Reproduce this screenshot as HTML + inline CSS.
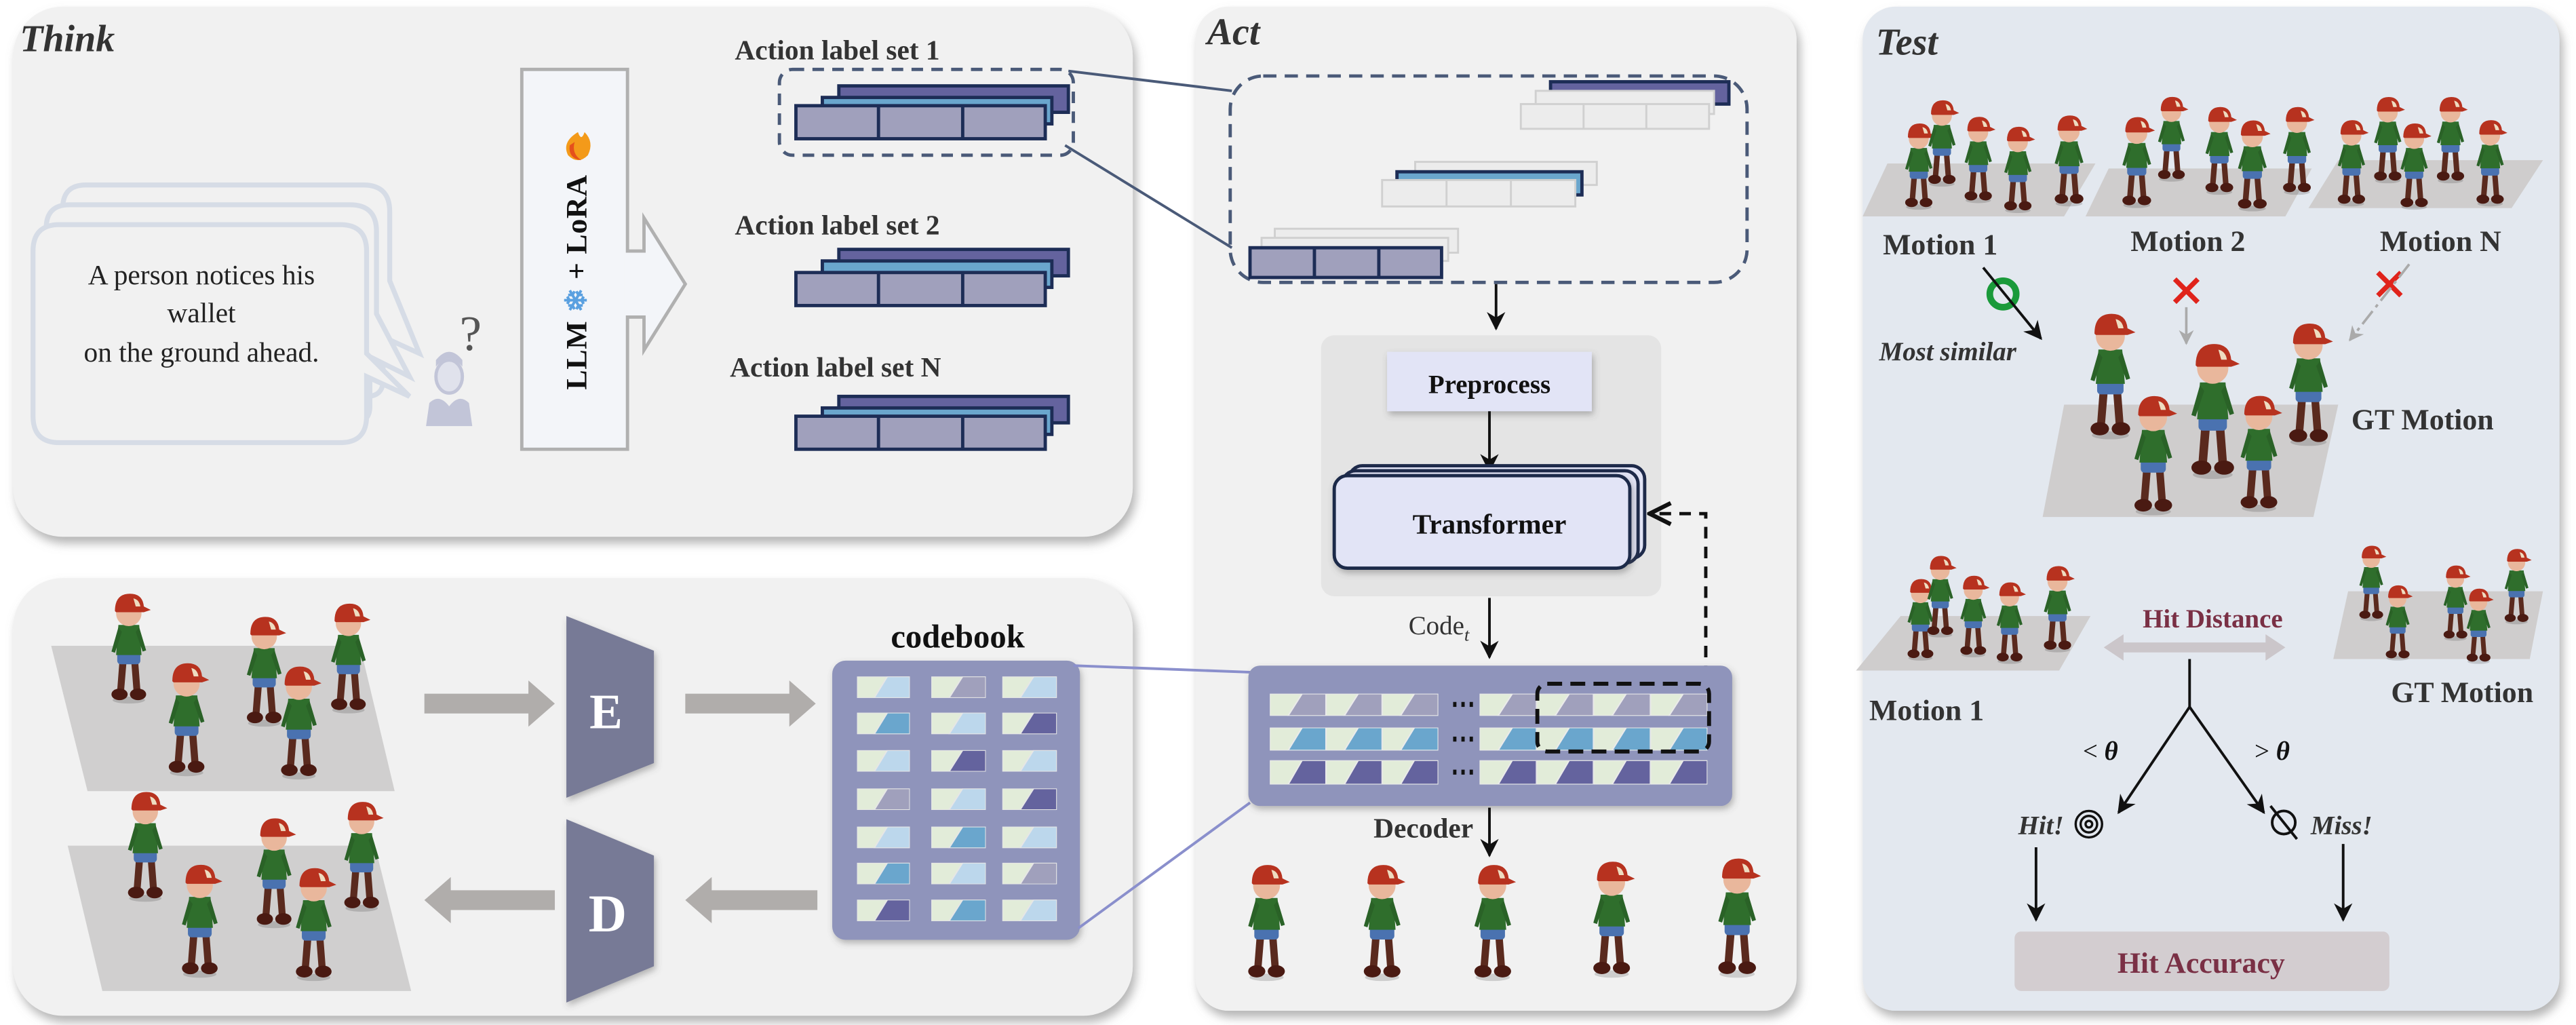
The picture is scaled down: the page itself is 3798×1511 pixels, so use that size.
<!DOCTYPE html>
<html><head><meta charset="utf-8"><style>
html,body{margin:0;padding:0;background:#fff;}
svg{display:block;}
text{font-family:"Liberation Serif",serif;}
</style></head><body>
<svg width="3798" height="1511" viewBox="0 0 1560 620.6" preserveAspectRatio="none" xmlns="http://www.w3.org/2000/svg">
<defs>
<filter id="sh" x="-5%" y="-5%" width="110%" height="112%"><feDropShadow dx="2" dy="4" stdDeviation="3" flood-color="#777" flood-opacity="0.55"/></filter>
<filter id="sh2" x="-10%" y="-10%" width="120%" height="130%"><feDropShadow dx="1" dy="2" stdDeviation="2" flood-color="#555" flood-opacity="0.4"/></filter>
<marker id="ah" viewBox="0 0 10 10" refX="9" refY="5" markerWidth="7" markerHeight="7" orient="auto"><path d="M0,0 L10,5 L0,10 L3,5 z" fill="#111"/></marker>
<marker id="ahg" viewBox="0 0 10 10" refX="9" refY="5" markerWidth="6" markerHeight="6" orient="auto"><path d="M0,0 L10,5 L0,10 L3,5 z" fill="#aaa"/></marker>
<marker id="aho" viewBox="0 0 10 10" refX="9" refY="5" markerWidth="8" markerHeight="8" orient="auto"><path d="M1,1 L9,5 L1,9" fill="none" stroke="#111" stroke-width="1.6"/></marker>
<symbol id="c1" viewBox="0 0 40 16" preserveAspectRatio="none"><rect width="40" height="16" fill="#e2ecd9"/><polygon points="13,16 23,0 40,0 40,16" fill="#a0a0bc"/></symbol>
<symbol id="c2" viewBox="0 0 40 16" preserveAspectRatio="none"><rect width="40" height="16" fill="#e2ecd9"/><polygon points="13,16 23,0 40,0 40,16" fill="#6aa6cd"/></symbol>
<symbol id="c3" viewBox="0 0 40 16" preserveAspectRatio="none"><rect width="40" height="16" fill="#e2ecd9"/><polygon points="13,16 23,0 40,0 40,16" fill="#64639e"/></symbol>
<symbol id="c4" viewBox="0 0 40 16" preserveAspectRatio="none"><rect width="40" height="16" fill="#e2ecd9"/><polygon points="13,16 23,0 40,0 40,16" fill="#bcd7ec"/></symbol>
<symbol id="kid" viewBox="0 0 40 100">
<ellipse cx="20" cy="97" rx="14" ry="3" fill="#000" opacity="0.15"/>
<path d="M12,62 L10,88 L16,88 L18,64 Z" fill="#5a2a1e"/>
<path d="M22,62 L24,88 L30,88 L28,62 Z" fill="#5a2a1e"/>
<ellipse cx="12" cy="92" rx="7" ry="5" fill="#4a1a12"/>
<ellipse cx="28" cy="92" rx="7" ry="5" fill="#4a1a12"/>
<rect x="10" y="54" width="20" height="12" rx="3" fill="#4a72b0"/>
<path d="M11,32 L29,32 L31,58 L9,58 Z" fill="#2f6e2c"/>
<path d="M11,34 L5,55 L8,56 L14,38 Z" fill="#2a6227"/>
<path d="M29,34 L35,54 L32,55 L26,38 Z" fill="#2a6227"/>
<circle cx="20" cy="22" r="11" fill="#e9b79c"/>
<path d="M8,20 Q8,5 21,5 Q32,5 33,16 L39,19 L33,21 L9,21 Z" fill="#b7321f"/>
<path d="M24,9 Q29,10 30,16 L26,16 Z" fill="#eedcc0"/>
</symbol>
</defs>

<!-- ================= THINK PANEL ================= -->
<rect x="8" y="4" width="678" height="321" rx="30" fill="#f1f1f1" filter="url(#sh)"/>
<text x="12" y="31" font-size="23" font-style="italic" font-weight="bold" fill="#333">Think</text>

<g fill="#f1f1f1" stroke="#d6dce6" stroke-width="3">
<path d="M52,112 L220,112 Q236,112 236,128 L236,170 L254,214 L232,204 L232,230 Q232,240 222,240 L52,240 Q38,240 38,226 L38,126 Q38,112 52,112Z"/>
<path d="M42,124 L212,124 Q228,124 228,140 L228,190 L248,228 L224,216 L224,246 Q224,256 214,256 L42,256 Q28,256 28,242 L28,138 Q28,124 42,124Z"/>
<path d="M36,136 L206,136 Q222,136 222,152 L222,214 L248,240 L222,228 L222,252 Q222,268 206,268 L36,268 Q20,268 20,252 L20,152 Q20,136 36,136Z"/>
</g>
<g font-size="17" fill="#222" text-anchor="middle">
<text x="122" y="172">A person notices his</text>
<text x="122" y="195">wallet</text>
<text x="122" y="219">on the ground ahead.</text>
</g>
<text x="285" y="212" font-size="30" fill="#555" text-anchor="middle" font-family="Liberation Sans,sans-serif">?</text>
<g fill="#c2c5d8">
<ellipse cx="272" cy="228" rx="8" ry="10" fill="#e0e2ec" stroke="#c2c5d8" stroke-width="2"/>
<path d="M264,222 Q272,212 280,222 L280,218 Q272,208 264,218Z"/>
<path d="M258,258 L260,244 Q266,238 272,246 Q278,238 284,244 L286,258 Z"/>
</g>

<path d="M316,42 L380,42 L380,152 L390,152 L390,132 L415,172 L390,212 L390,192 L380,192 L380,272 L316,272 Z" fill="#f3f5f9" stroke="#b0b0b0" stroke-width="2"/>
<rect x="318" y="44" width="60" height="226" fill="#f3f5f9"/>
<g transform="translate(355,171) rotate(-90)">
<text x="0" y="0" font-size="18" font-weight="bold" fill="#111" text-anchor="middle" textLength="130">LLM <tspan fill="#5aa0e0">❄</tspan> + LoRA</text>
</g>
<path d="M350,80 Q340,86 344,94 Q350,100 356,94 Q360,86 354,80 Q352,86 350,80Z" fill="#f39a1a"/>
<path d="M345,88 Q344,96 352,97 Q346,93 348,86Z" fill="#e5501c"/>

<g font-size="17" font-weight="bold" fill="#333">
<text x="445" y="36">Action label set 1</text>
<text x="445" y="142">Action label set 2</text>
<text x="442" y="228">Action label set N</text>
</g>
<g stroke="#1d2d56" stroke-width="2">
<g>
<rect x="508" y="52" width="139" height="16" fill="#64639e"/>
<rect x="498" y="59" width="139" height="16" fill="#6aa6cd"/>
<rect x="482" y="64" width="151" height="20" fill="#a0a0bc"/>
<line x1="532" y1="64" x2="532" y2="84"/><line x1="583" y1="64" x2="583" y2="84"/>
</g>
<g transform="translate(0,104)">
<rect x="508" y="47" width="139" height="16" fill="#64639e"/>
<rect x="498" y="54" width="139" height="16" fill="#6aa6cd"/>
<rect x="482" y="61" width="151" height="20" fill="#a0a0bc"/>
<line x1="532" y1="61" x2="532" y2="81"/><line x1="583" y1="61" x2="583" y2="81"/>
</g>
<g transform="translate(0,188)">
<rect x="508" y="52" width="139" height="16" fill="#64639e"/>
<rect x="498" y="59" width="139" height="16" fill="#6aa6cd"/>
<rect x="482" y="64" width="151" height="20" fill="#a0a0bc"/>
<line x1="532" y1="64" x2="532" y2="84"/><line x1="583" y1="64" x2="583" y2="84"/>
</g>
</g>
<rect x="472" y="42" width="178" height="52" rx="8" fill="none" stroke="#4a5a78" stroke-width="2" stroke-dasharray="7,5"/>

<!-- ================= BOTTOM-LEFT PANEL ================= -->
<rect x="8" y="350" width="678" height="265" rx="30" fill="#f1f1f1" filter="url(#sh)"/>
<polygon points="31,391 218,391 239,479 53,479" fill="#d0cfcf"/>
<polygon points="41,512 227,512 249,600 62,600" fill="#d0cfcf"/>
<use href="#kid" x="56" y="356" width="44" height="70"/>
<use href="#kid" x="138" y="370" width="44" height="70"/>
<use href="#kid" x="189" y="362" width="44" height="70"/>
<use href="#kid" x="90" y="398" width="46" height="72"/>
<use href="#kid" x="158" y="400" width="46" height="72"/>
<use href="#kid" x="66" y="476" width="44" height="70"/>
<use href="#kid" x="144" y="492" width="44" height="70"/>
<use href="#kid" x="197" y="482" width="44" height="70"/>
<use href="#kid" x="98" y="520" width="46" height="72"/>
<use href="#kid" x="167" y="522" width="46" height="72"/>
<g fill="#b0adab">
<polygon points="257,420 320,420 320,412 336,426 320,440 320,432 257,432"/>
<polygon points="415,420 478,420 478,412 494,426 478,440 478,432 415,432"/>
<polygon points="336,539 273,539 273,531 257,545 273,559 273,551 336,551"/>
<polygon points="495,539 431,539 431,531 415,545 431,559 431,551 495,551"/>
</g>
<polygon points="343,373 396,394 396,462 343,483" fill="#777a96" filter="url(#sh2)"/>
<polygon points="343,496 396,518 396,585 343,607" fill="#777a96" filter="url(#sh2)"/>
<text x="367" y="441" font-size="30" font-family="Liberation Sans,sans-serif" font-weight="bold" fill="#fff" text-anchor="middle">E</text>
<text x="368" y="564" font-size="32" font-family="Liberation Sans,sans-serif" font-weight="bold" fill="#fff" text-anchor="middle">D</text>
<text x="580" y="392" font-size="20" font-weight="bold" fill="#111" text-anchor="middle">codebook</text>
<rect x="504" y="400" width="150" height="169" rx="8" fill="#8f94bb" filter="url(#sh2)"/>
<g stroke="#e6e6e6" stroke-width="1">
<use href="#c4" x="519" y="409.6" width="32" height="13"/><use href="#c1" x="564" y="409.6" width="33" height="13"/><use href="#c4" x="607" y="409.6" width="33" height="13"/>
<use href="#c2" x="519" y="431.5" width="32" height="13"/><use href="#c4" x="564" y="431.5" width="33" height="13"/><use href="#c3" x="607" y="431.5" width="33" height="13"/>
<use href="#c4" x="519" y="454.2" width="32" height="13"/><use href="#c3" x="564" y="454.2" width="33" height="13"/><use href="#c4" x="607" y="454.2" width="33" height="13"/>
<use href="#c1" x="519" y="477.4" width="32" height="13"/><use href="#c4" x="564" y="477.4" width="33" height="13"/><use href="#c3" x="607" y="477.4" width="33" height="13"/>
<use href="#c4" x="519" y="500.5" width="32" height="13"/><use href="#c2" x="564" y="500.5" width="33" height="13"/><use href="#c4" x="607" y="500.5" width="33" height="13"/>
<use href="#c2" x="519" y="522.4" width="32" height="13"/><use href="#c4" x="564" y="522.4" width="33" height="13"/><use href="#c1" x="607" y="522.4" width="33" height="13"/>
<use href="#c3" x="519" y="544.7" width="32" height="13"/><use href="#c2" x="564" y="544.7" width="33" height="13"/><use href="#c4" x="607" y="544.7" width="33" height="13"/>
</g>

<!-- ================= ACT PANEL ================= -->
<rect x="724" y="4" width="364" height="608" rx="20" fill="#f1f1f1" filter="url(#sh)"/>
<text x="731" y="27" font-size="23" font-style="italic" font-weight="bold" fill="#333">Act</text>
<rect x="745" y="46" width="313" height="125" rx="20" fill="none" stroke="#4a5a78" stroke-width="2" stroke-dasharray="8,5"/>
<line x1="647" y1="43" x2="746" y2="55" stroke="#4a5a78" stroke-width="1.6"/>
<line x1="645" y1="88" x2="746" y2="150" stroke="#4a5a78" stroke-width="1.6"/>
<line x1="650" y1="403" x2="757" y2="407" stroke="#8a8fcc" stroke-width="1.6"/>
<line x1="653" y1="562" x2="757" y2="486" stroke="#8a8fcc" stroke-width="1.6"/>
<g stroke="#d0d0d0" stroke-width="1.2" fill="#ececec">
<rect x="939" y="49.5" width="108" height="13.5" fill="#64639e" stroke="#1d2d56" stroke-width="2"/>
<rect x="930" y="55" width="108" height="14"/>
<rect x="921" y="63" width="114" height="15"/>
<line x1="959" y1="63" x2="959" y2="78"/><line x1="997" y1="63" x2="997" y2="78"/>
<rect x="857" y="98" width="110" height="14"/>
<rect x="846" y="104" width="112" height="14" fill="#6aa6cd" stroke="#1d2d56" stroke-width="2"/>
<rect x="837" y="109" width="117" height="16"/>
<line x1="876" y1="109" x2="876" y2="125"/><line x1="915" y1="109" x2="915" y2="125"/>
<rect x="772" y="138.5" width="111" height="14.5"/>
<rect x="764" y="144" width="113" height="14"/>
<rect x="757" y="150" width="116" height="18" fill="#a0a0bc" stroke="#1d2d56" stroke-width="2"/>
<line x1="796" y1="150" x2="796" y2="168" stroke="#1d2d56" stroke-width="2"/><line x1="835" y1="150" x2="835" y2="168" stroke="#1d2d56" stroke-width="2"/>
</g>
<line x1="906" y1="172" x2="906" y2="199" stroke="#111" stroke-width="1.6" marker-end="url(#ah)"/>
<rect x="800" y="203" width="206" height="158" rx="8" fill="#e4e4e4"/>
<rect x="840" y="213" width="124" height="36" fill="#e2e4f6" filter="url(#sh2)"/>
<text x="902" y="238" font-size="16" font-weight="bold" fill="#111" text-anchor="middle">Preprocess</text>
<line x1="902" y1="249" x2="902" y2="285" stroke="#111" stroke-width="1.6" marker-end="url(#ah)"/>
<rect x="817" y="282" width="179" height="56" rx="8" fill="#e2e4f6" stroke="#1e2a4a" stroke-width="2"/>
<rect x="813" y="285" width="179" height="56" rx="8" fill="#e2e4f6" stroke="#1e2a4a" stroke-width="2"/>
<rect x="808" y="288" width="179" height="56" rx="8" fill="#e2e4f6" stroke="#1e2a4a" stroke-width="2" filter="url(#sh2)"/>
<text x="902" y="323" font-size="17" font-weight="bold" fill="#111" text-anchor="middle">Transformer</text>
<path d="M1033,410 L1033,311 L999,311" fill="none" stroke="#111" stroke-width="2" stroke-dasharray="7,5" marker-end="url(#aho)"/>
<text x="853" y="384" font-size="16" fill="#333">Code<tspan font-size="11" font-style="italic" dy="4">t</tspan></text>
<line x1="902" y1="362" x2="902" y2="398" stroke="#111" stroke-width="1.6" marker-end="url(#ah)"/>
<rect x="756" y="403" width="293" height="85" rx="7" fill="#8f94bb" filter="url(#sh2)"/>
<g stroke="#eaeaea" stroke-width="1">
<use href="#c1" x="769" y="420" width="34" height="13.4"/><use href="#c1" x="803" y="420" width="34" height="13.4"/><use href="#c1" x="837" y="420" width="34" height="13.4"/>
<use href="#c2" x="769" y="440.5" width="34" height="13.9"/><use href="#c2" x="803" y="440.5" width="34" height="13.9"/><use href="#c2" x="837" y="440.5" width="34" height="13.9"/>
<use href="#c3" x="769" y="460.3" width="34" height="14.7"/><use href="#c3" x="803" y="460.3" width="34" height="14.7"/><use href="#c3" x="837" y="460.3" width="34" height="14.7"/>
<use href="#c1" x="896" y="420" width="34.5" height="13.4"/><use href="#c1" x="930.5" y="420" width="34.5" height="13.4"/><use href="#c1" x="965" y="420" width="34.5" height="13.4"/><use href="#c1" x="999.5" y="420" width="34.5" height="13.4"/>
<use href="#c2" x="896" y="440.5" width="34.5" height="13.9"/><use href="#c2" x="930.5" y="440.5" width="34.5" height="13.9"/><use href="#c2" x="965" y="440.5" width="34.5" height="13.9"/><use href="#c2" x="999.5" y="440.5" width="34.5" height="13.9"/>
<use href="#c3" x="896" y="460.3" width="34.5" height="14.7"/><use href="#c3" x="930.5" y="460.3" width="34.5" height="14.7"/><use href="#c3" x="965" y="460.3" width="34.5" height="14.7"/><use href="#c3" x="999.5" y="460.3" width="34.5" height="14.7"/>
</g>
<g fill="#111">
<rect x="880" y="425" width="2" height="3"/><rect x="885" y="425" width="2" height="3"/><rect x="890" y="425" width="2" height="3"/>
<rect x="880" y="446" width="2" height="3"/><rect x="885" y="446" width="2" height="3"/><rect x="890" y="446" width="2" height="3"/>
<rect x="880" y="466" width="2" height="3"/><rect x="885" y="466" width="2" height="3"/><rect x="890" y="466" width="2" height="3"/>
</g>
<rect x="931" y="414" width="104" height="41" rx="6" fill="none" stroke="#111" stroke-width="2.4" stroke-dasharray="9,5"/>
<text x="862" y="507" font-size="17" font-weight="bold" fill="#333" text-anchor="middle">Decoder</text>
<line x1="902" y1="489" x2="902" y2="518" stroke="#111" stroke-width="1.6" marker-end="url(#ah)"/>
<use href="#kid" x="745" y="520" width="44" height="74"/>
<use href="#kid" x="815" y="520" width="44" height="74"/>
<use href="#kid" x="882" y="520" width="44" height="74"/>
<use href="#kid" x="954" y="518" width="44" height="74"/>
<use href="#kid" x="1029" y="516" width="46" height="76"/>

<!-- ================= TEST PANEL ================= -->
<rect x="1128" y="4" width="422" height="608" rx="20" fill="#e3e8ef" filter="url(#sh)"/>
<text x="1136" y="33" font-size="23" font-style="italic" font-weight="bold" fill="#333">Test</text>
<polygon points="1143,99 1269,99 1250,131 1128,131" fill="#cfcdcd"/>
<polygon points="1277,102 1400,102 1384,131 1263,131" fill="#cfcdcd"/>
<polygon points="1416,97 1540,97 1521,126 1398,126" fill="#cfcdcd"/>
<use href="#kid" x="1148" y="72" width="28" height="55"/><use href="#kid" x="1162" y="58" width="28" height="55"/><use href="#kid" x="1184" y="68" width="28" height="55"/><use href="#kid" x="1208" y="74" width="28" height="55"/><use href="#kid" x="1238" y="67" width="30" height="58"/>
<use href="#kid" x="1280" y="68" width="28" height="58"/><use href="#kid" x="1302" y="56" width="26" height="54"/><use href="#kid" x="1330" y="62" width="28" height="56"/><use href="#kid" x="1350" y="70" width="28" height="58"/><use href="#kid" x="1378" y="62" width="26" height="56"/>
<use href="#kid" x="1410" y="70" width="28" height="55"/><use href="#kid" x="1432" y="56" width="28" height="55"/><use href="#kid" x="1448" y="72" width="28" height="55"/><use href="#kid" x="1470" y="56" width="28" height="55"/><use href="#kid" x="1494" y="70" width="28" height="55"/>
<g font-size="18" font-weight="bold" fill="#333" text-anchor="middle">
<text x="1175" y="154">Motion 1</text>
<text x="1325" y="152">Motion 2</text>
<text x="1478" y="152">Motion N</text>
</g>
<circle cx="1213" cy="178" r="8" fill="none" stroke="#1a9a3a" stroke-width="4"/>
<line x1="1201" y1="162" x2="1236" y2="205" stroke="#111" stroke-width="1.6" marker-end="url(#ah)"/>
<text x="1138" y="218" font-size="16" font-style="italic" font-weight="bold" fill="#333">Most similar</text>
<g stroke="#e0231b" stroke-width="3"><line x1="1317" y1="169" x2="1331" y2="183"/><line x1="1331" y1="169" x2="1317" y2="183"/>
<line x1="1440" y1="165" x2="1454" y2="179"/><line x1="1454" y1="165" x2="1440" y2="179"/></g>
<line x1="1324" y1="186" x2="1324" y2="208" stroke="#aaa" stroke-width="1.5" marker-end="url(#ahg)"/>
<line x1="1459" y1="160" x2="1423" y2="206" stroke="#aaa" stroke-width="1.5" stroke-dasharray="10,3,2,3" marker-end="url(#ahg)"/>
<polygon points="1250,245 1416,245 1401,313 1237,313" fill="#cfcdcd"/>
<use href="#kid" x="1258" y="186" width="40" height="80"/><use href="#kid" x="1318" y="204" width="44" height="86"/><use href="#kid" x="1378" y="192" width="40" height="78"/>
<use href="#kid" x="1282" y="236" width="44" height="76"/><use href="#kid" x="1348" y="236" width="40" height="74"/>
<text x="1424" y="260" font-size="18" font-weight="bold" fill="#333">GT Motion</text>
<polygon points="1151,373 1266,373 1247,406 1124,406" fill="#cfcdcd"/>
<use href="#kid" x="1150" y="348" width="26" height="52"/><use href="#kid" x="1162" y="334" width="26" height="52"/><use href="#kid" x="1182" y="346" width="26" height="52"/><use href="#kid" x="1204" y="350" width="26" height="52"/><use href="#kid" x="1232" y="340" width="28" height="55"/>
<polygon points="1422,358 1540,358 1532,399 1413,399" fill="#cfcdcd"/>
<use href="#kid" x="1424" y="328" width="24" height="48"/><use href="#kid" x="1474" y="340" width="26" height="48"/><use href="#kid" x="1512" y="330" width="24" height="48"/><use href="#kid" x="1438" y="352" width="28" height="48"/><use href="#kid" x="1488" y="354" width="26" height="48"/>
<g font-size="18" font-weight="bold" fill="#333">
<text x="1132" y="436">Motion 1</text>
<text x="1448" y="425">GT Motion</text>
</g>
<text x="1340" y="380" font-size="16" font-weight="bold" fill="#7a3045" text-anchor="middle">Hit Distance</text>
<polygon points="1274,392 1286,384 1286,389 1372,389 1372,384 1384,392 1372,400 1372,395 1286,395 1286,400" fill="#cbc6ca"/>
<path d="M1326,399 L1326,428" stroke="#111" stroke-width="1.6" fill="none"/>
<line x1="1326" y1="428" x2="1283" y2="492" stroke="#111" stroke-width="1.6" marker-end="url(#ah)"/>
<line x1="1326" y1="428" x2="1371" y2="492" stroke="#111" stroke-width="1.6" marker-end="url(#ah)"/>
<text x="1272" y="460" font-size="16" fill="#111" text-anchor="middle">&lt; <tspan font-style="italic" font-weight="bold">θ</tspan></text>
<text x="1376" y="460" font-size="16" fill="#111" text-anchor="middle">&gt; <tspan font-style="italic" font-weight="bold">θ</tspan></text>
<text x="1236" y="505" font-size="16" font-style="italic" font-weight="bold" fill="#333" text-anchor="middle">Hit!</text>
<g fill="none" stroke="#111" stroke-width="1.4"><circle cx="1265" cy="499" r="8"/><circle cx="1265" cy="499" r="5"/><circle cx="1265" cy="499" r="2"/></g>
<g fill="none" stroke="#111" stroke-width="1.6"><circle cx="1383" cy="498" r="7"/><line x1="1375" y1="488" x2="1391" y2="508"/></g>
<text x="1418" y="505" font-size="16" font-style="italic" font-weight="bold" fill="#333" text-anchor="middle">Miss!</text>
<line x1="1233" y1="513" x2="1233" y2="557" stroke="#111" stroke-width="1.6" marker-end="url(#ah)"/>
<line x1="1419" y1="511" x2="1419" y2="557" stroke="#111" stroke-width="1.6" marker-end="url(#ah)"/>
<rect x="1220" y="564" width="227" height="36" rx="4" fill="#d3cdd0"/>
<text x="1333" y="589" font-size="18" font-weight="bold" fill="#7a3045" text-anchor="middle">Hit Accuracy</text>
</svg>
</body></html>
